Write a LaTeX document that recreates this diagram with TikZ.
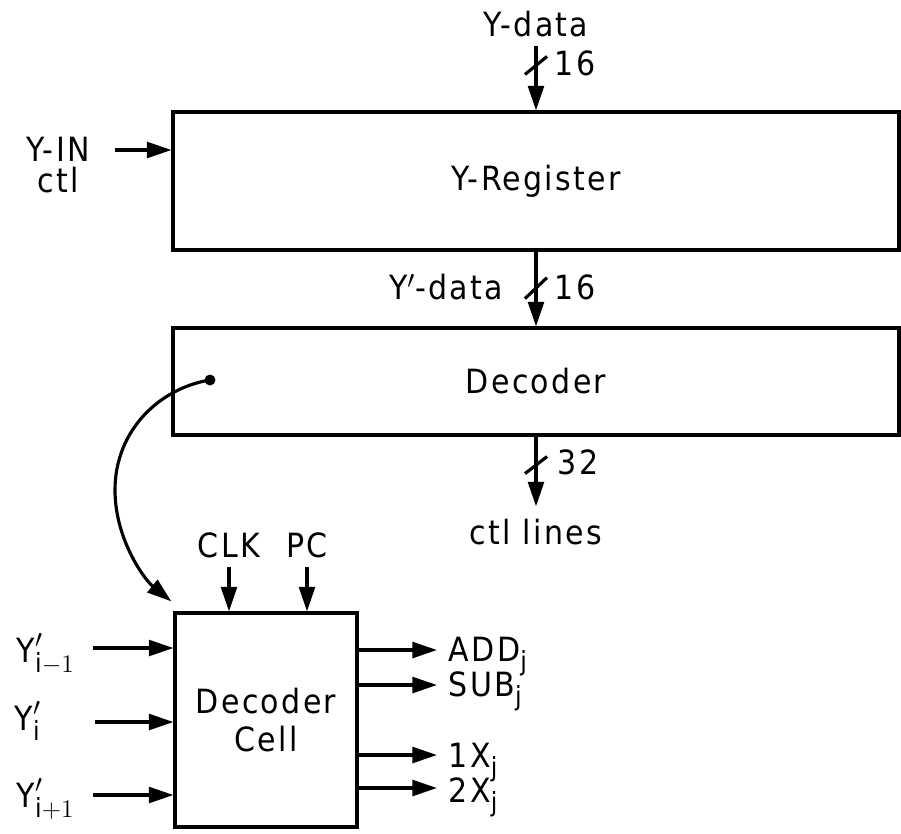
\documentclass[tikz,border=0pt]{standalone}
\usepackage{fontspec}
\setmainfont{DejaVu Sans Condensed}[LetterSpace=7]
\usepackage{amsmath}
\DeclareMathSizes{19}{19}{15}{12}
\usetikzlibrary{arrows.meta,positioning,calc}

\begin{document}
\begin{tikzpicture}[
  x=0.02cm, y=-0.02cm,
  blk/.style={draw,line width=1.8pt,minimum width=14.52cm,minimum height=2.76cm,
              align=center,font=\fontsize{19}{22}\selectfont},
  cellblk/.style={blk,minimum width=3.64cm,minimum height=4.28cm},
  lbl/.style={font=\fontsize{19}{22}\selectfont,inner sep=2pt},
  arr/.style={-{Triangle[length=14pt,width=9pt]},line width=1.8pt},
  bus/.style={line width=1.8pt},
  tapdot/.style={circle,fill,inner sep=0pt,minimum size=0.22cm}
]
\useasboundingbox (0,0) rectangle (901,833);

% Register and decoder
\node[blk] (yreg) at (536,181) {Y-Register};
\node[blk,minimum height=2.14cm] (dec) at (536,381.5) {Decoder};
\node[tapdot] (tap) at (210,380) {};

% Y data in
\node[lbl] (ydata) at (536,24) {Y-data};
\node[lbl] (n16a) at (575,63) {16};
\draw[arr] ([yshift=-3pt]ydata.south) -- (yreg.north);
\draw[bus] ($(yreg.north)+(0,-45)$) ++(-11,9) -- ++(22,-18);

\node[lbl,align=center] (yinl) at (58,165) {Y-IN\\[-4pt]ctl};
\coordinate (yinctl) at (115,150);
\draw[arr] (yinctl) -- (yinctl -| yreg.west);

% Y' data
\node[lbl] (ypdata) at (446,287) {Y$'$-data};
\node[lbl] (n16b) at (575,287) {16};
\draw[arr] (yreg.south) -- (dec.north);
\draw[bus] ($(yreg.south)+(0,37)$) ++(-11,10) -- ++(22,-21);

% ctl lines out
\node[lbl] (ctl) at (536,532) {ctl lines};
\node[lbl] (n32) at (578,462) {32};
\draw[arr] (dec.south) -- ([yshift=5pt]ctl.north);
\draw[bus] ($(dec.south)+(0,28)$) ++(-11,9) -- ++(22,-17);

% Decoder cell
\node[cellblk] (cell) at (266,720) {Decoder\\Cell};
\draw[arr] (tap.center) .. controls (160,388) and (115,430) .. (115,490)
  .. controls (115,540) and (145,580) .. ([shift={(-2,-10)}]cell.north west);

\node[lbl] (clk) at (229,545) {CLK};
\node[lbl] (pc) at (307,545) {PC};
\draw[arr] ([yshift=-3pt]clk.south) -- (clk.south |- cell.north);
\draw[arr] ([yshift=-3pt]pc.south) -- (pc.south |- cell.north);

% cell inputs
\node[lbl,anchor=base west] (yiml) at (13,662) {$\text{Y}'_{\text{i}-1}$};
\node[lbl,anchor=base west] (yil) at (11,730) {$\text{Y}'_{\text{i}}$};
\node[lbl,anchor=base west] (yipl) at (13,807) {$\text{Y}'_{\text{i}+1}$};
\coordinate (yim) at (93,648);
\coordinate (yi) at (95,722);
\coordinate (yip) at (93,795);
\draw[arr] (yim) -- (yim -| cell.west);
\draw[arr] (yi) -- (yi -| cell.west);
\draw[arr] (yip) -- (yip -| cell.west);

% cell outputs
\coordinate (add) at (437,650);
\coordinate (sub) at (437,685);
\coordinate (onex) at (437,755);
\coordinate (twox) at (437,788);
\draw[arr] (add -| cell.east) -- (add);
\draw[arr] (sub -| cell.east) -- (sub);
\draw[arr] (onex -| cell.east) -- (onex);
\draw[arr] (twox -| cell.east) -- (twox);
\node[lbl,anchor=base west] (addl) at (445,661) {ADD$_{\text{j}}$};
\node[lbl,anchor=base west] (subl) at (445,696) {SUB$_{\text{j}}$};
\node[lbl,anchor=base west] (onexl) at (445,767) {1X$_{\text{j}}$};
\node[lbl,anchor=base west] (twoxl) at (445,802) {2X$_{\text{j}}$};

\end{tikzpicture}
\end{document}
